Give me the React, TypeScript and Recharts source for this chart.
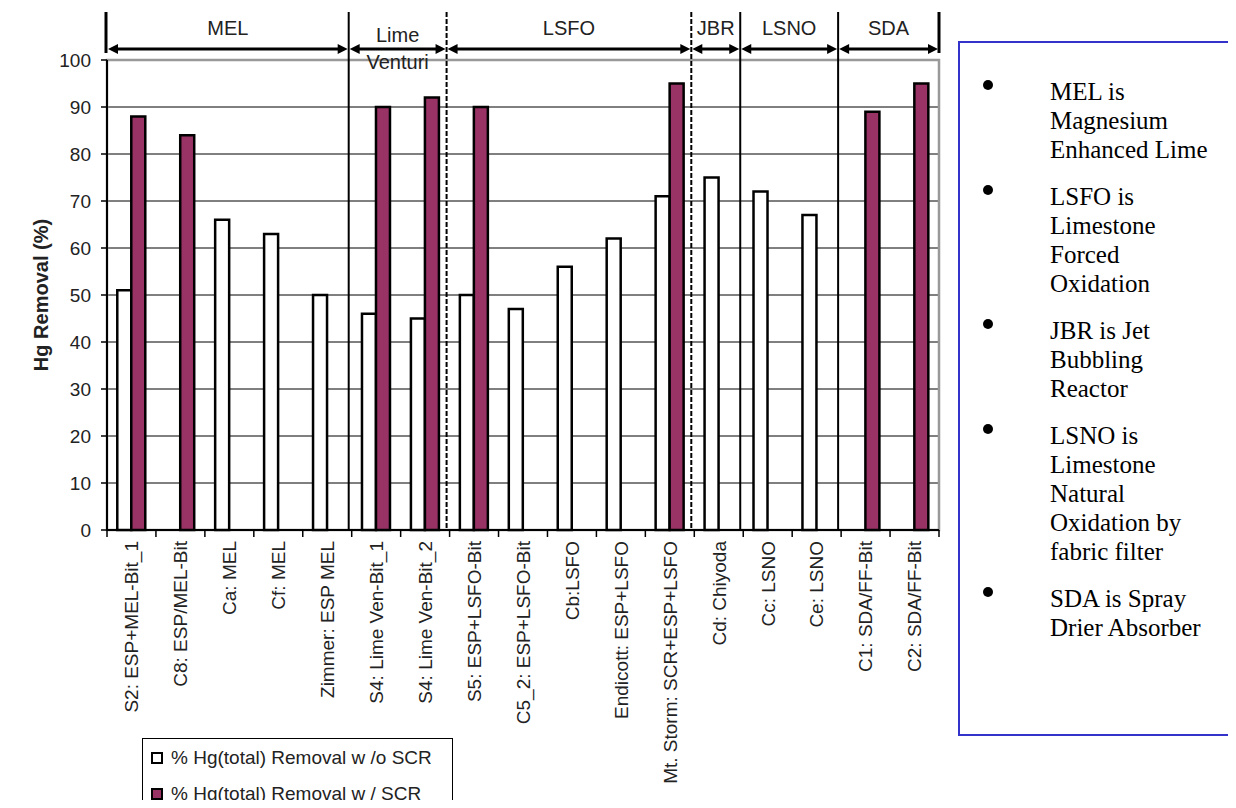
import React from 'react';
import { BarChart, Bar, XAxis, YAxis, CartesianGrid, ReferenceArea, Legend } from 'recharts';

const sites = [
  'S2: ESP+MEL-Bit_1',
  'C8: ESP/MEL-Bit',
  'Ca: MEL',
  'Cf: MEL',
  'Zimmer: ESP MEL',
  'S4: Lime Ven-Bit_1',
  'S4: Lime Ven-Bit_2',
  'S5: ESP+LSFO-Bit',
  'C5_2: ESP+LSFO-Bit',
  'Cb:LSFO',
  'Endicott: ESP+LSFO',
  'Mt. Storm: SCR+ESP+LSFO',
  'Cd: Chiyoda',
  'Cc: LSNO',
  'Ce: LSNO',
  'C1: SDA/FF-Bit',
  'C2: SDA/FF-Bit',
];

// % Hg(total) removal without / with SCR (null = no bar)
const withoutScr = [51, null, 66, 63, 50, 46, 45, 50, 47, 56, 62, 71, 75, 72, 67, null, null];
const withScr = [88, 84, null, null, null, 90, 92, 90, null, null, null, 95, null, null, null, 89, 95];
const seriesNames = ['% Hg(total) Removal w /o SCR', '% Hg(total) Removal w / SCR'];

const yTicks = [0, 10, 20, 30, 40, 50, 60, 70, 80, 90, 100];
const gridValues = [10, 20, 30, 40, 50, 60, 70, 80, 90];

// process groups shown above the plot (first / last site of each)
const groupLabels = [['MEL'], ['Lime', 'Venturi'], ['LSFO'], ['JBR'], ['LSNO'], ['SDA']];
const groupFirst = ['S2: ESP+MEL-Bit_1', 'S4: Lime Ven-Bit_1', 'S5: ESP+LSFO-Bit', 'Cd: Chiyoda', 'Cc: LSNO', 'C1: SDA/FF-Bit'];
const groupLast = ['Zimmer: ESP MEL', 'S4: Lime Ven-Bit_2', 'Mt. Storm: SCR+ESP+LSFO', 'Cd: Chiyoda', 'Ce: LSNO', 'C2: SDA/FF-Bit'];

const notes = [
  ['MEL is', 'Magnesium', 'Enhanced Lime'],
  ['LSFO is', 'Limestone', 'Forced', 'Oxidation'],
  ['JBR is Jet', 'Bubbling', 'Reactor'],
  ['LSNO is', 'Limestone', 'Natural', 'Oxidation by', 'fabric filter'],
  ['SDA is Spray', 'Drier Absorber'],
];

const data = sites.map((site, i) => ({ site, without: withoutScr[i], with: withScr[i] }));

const SANS = '"Liberation Sans", Arial, Helvetica, sans-serif';
const SERIF = '"Liberation Serif", "Times New Roman", serif';
const PURPLE = '#993366';
const TEXT = '#222';

const dashedEdges = [2, 3]; // LSFO and JBR start with a dashed separator

const SiteTick = (props: any) => {
  const { x, y, payload, index } = props;
  const off = payload?.offset ?? 24.5;
  const last = index === sites.length - 1;
  return (
    <g>
      <line x1={x - off} x2={x - off} y1={y - 10} y2={y - 3} stroke="#000" strokeWidth={1.5} />
      {last && <line x1={x + off} x2={x + off} y1={y - 10} y2={y - 3} stroke="#000" strokeWidth={1.5} />}
      <text
        x={x}
        y={y + 1}
        transform={`rotate(-90 ${x} ${y + 1})`}
        textAnchor="end"
        dy="0.36em"
        fontSize={19}
        fontFamily={SANS}
        fill={TEXT}
      >
        {payload.value}
      </text>
    </g>
  );
};

const groupShape = (gi: number) => (p: any) => {
  const { x, y, width, height } = p;
  const left = gi === 0 ? x : x - 3;
  const right = gi === groupLabels.length - 1 ? x + width : x + width - 3;
  const ay = y - 11;
  const top = y - 48;
  const bottom = y + height;
  const ah = 10;
  const aw = 5;
  const lbl = groupLabels[gi];
  const cx = (left + right) / 2;
  const edgeDash = dashedEdges.includes(gi) ? '5 2' : undefined;
  return (
    <g>
      <line x1={left + ah} x2={right - ah} y1={ay} y2={ay} stroke="#000" strokeWidth={3} />
      <polygon points={`${left + 1},${ay} ${left + 1 + ah},${ay - aw} ${left + 1 + ah},${ay + aw}`} fill="#000" />
      <polygon points={`${right - 1},${ay} ${right - 1 - ah},${ay - aw} ${right - 1 - ah},${ay + aw}`} fill="#000" />
      {gi === 0 ? (
        <line x1={left - 1} x2={left - 1} y1={top} y2={ay + 4} stroke="#000" strokeWidth={3} />
      ) : (
        <line x1={left} x2={left} y1={top} y2={bottom} stroke="#000" strokeWidth={2} strokeDasharray={edgeDash} />
      )}
      {gi === groupLabels.length - 1 && (
        <line x1={right} x2={right} y1={top} y2={ay + 4} stroke="#000" strokeWidth={3} />
      )}
      {lbl.length === 1 ? (
        <text x={cx} y={y - 32} dy="0.36em" textAnchor="middle" fontSize={20} fontFamily={SANS} fill={TEXT}>
          {lbl[0]}
        </text>
      ) : (
        <>
          <text x={cx} y={y - 25} dy="0.36em" textAnchor="middle" fontSize={20} fontFamily={SANS} fill={TEXT}>
            {lbl[0]}
          </text>
          <text x={cx} y={y + 2} dy="0.36em" textAnchor="middle" fontSize={20} fontFamily={SANS} fill={TEXT}>
            {lbl[1]}
          </text>
        </>
      )}
    </g>
  );
};

const renderLegend = (props: any) => {
  const items = [...(props.payload || [])].sort(
    (a: any, b: any) => seriesNames.indexOf(a.value) - seriesNames.indexOf(b.value),
  );
  return (
    <div
      style={{
        border: '1px solid #000',
        background: '#fff',
        boxSizing: 'border-box',
        width: 311,
        height: 90,
        padding: '1px 0 0 8px',
        fontFamily: SANS,
        fontSize: 19,
        color: TEXT,
      }}
    >
      {items.map((entry: any) => (
        <div key={entry.value} style={{ display: 'flex', alignItems: 'center', height: 36 }}>
          <span
            style={{
              display: 'inline-block',
              width: 8,
              height: 8,
              border: '2px solid #000',
              background: entry.color,
              marginRight: 8,
            }}
          />
          {entry.value}
        </div>
      ))}
    </div>
  );
};

const yLabel = (props: any) => {
  const vb = props.viewBox;
  const cx = vb.x + 41;
  const cy = vb.y + vb.height / 2;
  return (
    <text
      x={cx}
      y={cy}
      dy="0.36em"
      textAnchor="middle"
      transform={`rotate(-90 ${cx} ${cy})`}
      fontSize={20}
      fontWeight="bold"
      fontFamily={SANS}
      fill={TEXT}
    >
      Hg Removal (%)
    </text>
  );
};

export default function App() {
  return (
    <div style={{ margin: -8, width: 1236, height: 808, overflow: 'hidden', position: 'relative', background: '#fff' }}>
      <BarChart
        width={1236}
        height={808}
        data={data}
        margin={{ top: 60, right: 297, left: 0, bottom: 0 }}
        barCategoryGap="21%"
        barGap={0}
      >
        <CartesianGrid horizontal vertical={false} stroke="#000" strokeWidth={1} horizontalValues={gridValues} />
        <ReferenceArea y1={0} y2={100} fill="none" fillOpacity={0} stroke="#999" strokeWidth={2.5} />
        {groupLabels.map((_, gi) => (
          <ReferenceArea
            key={gi}
            x1={groupFirst[gi]}
            x2={groupLast[gi]}
            y1={0}
            y2={100}
            shape={groupShape(gi)}
          />
        ))}
        <XAxis
          dataKey="site"
          interval={0}
          height={278}
          tickSize={7}
          tickMargin={3}
          tickLine={false}
          axisLine={{ stroke: '#000', strokeWidth: 2 }}
          tick={<SiteTick />}
        />
        <YAxis
          width={107}
          domain={[0, 100]}
          ticks={yTicks}
          interval={0}
          tickSize={6}
          tickMargin={10}
          tickLine={{ stroke: '#000', strokeWidth: 1.5 }}
          axisLine={{ stroke: '#000', strokeWidth: 2 }}
          tick={{ fontSize: 19, fontFamily: SANS, fill: TEXT }}
          label={yLabel}
        />
        <Legend
          layout="vertical"
          align="center"
          verticalAlign="middle"
          content={renderLegend}
          wrapperStyle={{ left: 142, top: 738, width: 311, height: 90 }}
        />
        <Bar
          dataKey="without"
          name={seriesNames[0]}
          fill="#ffffff"
          stroke="#000"
          strokeWidth={2.5}
          isAnimationActive={false}
        />
        <Bar
          dataKey="with"
          name={seriesNames[1]}
          fill={PURPLE}
          stroke="#000"
          strokeWidth={2.5}
          isAnimationActive={false}
        />
      </BarChart>
      <div
        style={{
          position: 'absolute',
          left: 958,
          top: 41,
          width: 300,
          height: 695,
          border: '2px solid #3333cc',
          boxSizing: 'border-box',
          fontFamily: SERIF,
          fontSize: 25,
          lineHeight: '29px',
          color: '#000',
          paddingTop: 34,
        }}
      >
        {notes.map((lines, i) => (
          <div key={i} style={{ position: 'relative', paddingLeft: 90, marginBottom: 18 }}>
            <span
              style={{
                position: 'absolute',
                left: 23,
                top: 3,
                width: 10,
                height: 10,
                borderRadius: '50%',
                background: '#000',
              }}
            />
            {lines.map((ln) => (
              <div key={ln}>{ln}</div>
            ))}
          </div>
        ))}
      </div>
    </div>
  );
}
